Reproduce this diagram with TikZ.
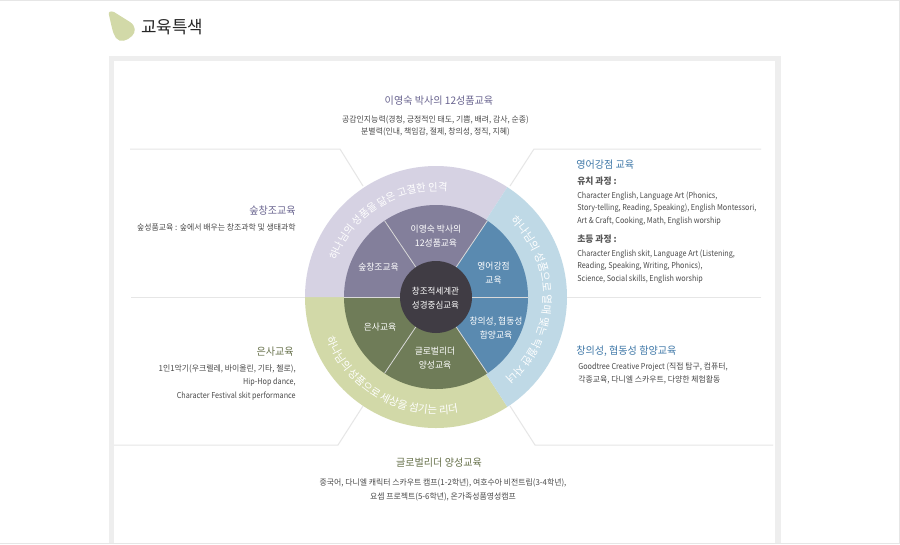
\documentclass[tikz,border=0pt]{standalone}
\usepackage{fontspec}
\setmainfont[FakeStretch=0.97]{Noto Sans CJK KR}
\newfontfamily\latn[FakeStretch=0.89]{Noto Sans CJK KR}
\usetikzlibrary{decorations.text}
\definecolor{frameG}{HTML}{EEEEEE}
\definecolor{ruleG}{HTML}{E6E6E6}
\definecolor{purA}{HTML}{D6D2E3}
\definecolor{bluA}{HTML}{BFD9E6}
\definecolor{grnA}{HTML}{D2D9A8}
\definecolor{purB}{HTML}{837F9B}
\definecolor{bluB}{HTML}{5A8AB0}
\definecolor{grnB}{HTML}{6F7C58}
\definecolor{coreC}{HTML}{403C44}
\definecolor{purT}{HTML}{6A6590}
\definecolor{bluT}{HTML}{3F78A8}
\definecolor{grnT}{HTML}{68724C}
\definecolor{bodyT}{HTML}{4A4A4A}
\tikzset{
  x=0.75pt,y=-0.75pt,
  leader/.style={draw=ruleG,line width=0.75pt},
  head/.style={font=\fontsize{7.8}{10}\selectfont,inner sep=0pt},
  body/.style={font=\fontsize{6.1}{9.6}\selectfont,text=bodyT,inner sep=0pt},
  subhead/.style={font=\fontsize{6.8}{10}\selectfont\bfseries,text=black!65,inner sep=0pt},
  seg/.style={font=\fontsize{6.8}{10.5}\selectfont,text=white,align=center,inner sep=0pt},
  sep/.style={draw=white!70!gray,line width=0.6pt},
  ringtext/.style 2 args={decoration={text along path,text align=center,text={|\fontsize{#1}{10}\selectfont\color{white}|#2}},decorate}
}
\begin{document}
\begin{tikzpicture}
\useasboundingbox (0,0) rectangle (900,544);
\fill[white] (0,0) rectangle (900,544);
\fill[ruleG] (0,0) rectangle (900,1);
\fill[ruleG] (899,0) rectangle (900,544);
\fill[ruleG] (0,543) rectangle (900,544);
% panel
\fill[frameG] (109,56) rectangle (781,543);
\fill[white] (114,61) rectangle (775,543);
% icon
\fill[grnA] (109,15) .. controls (108,11) and (111,11) .. (114,12) -- (130,22) .. controls (136,26) and (136,32) .. (132,36) .. controls (127,41) and (120,43) .. (116,38) .. controls (114,35) and (113,32) .. (112,28) -- cycle;
\node[inner sep=0pt,anchor=west,font=\fontsize{13}{14}\selectfont,text=black!85] (title) at (141,27.5) {교육특색};
% leaders
\coordinate (tlA) at (130,149); \coordinate (tlB) at (340,149); \coordinate (tlC) at (363,186);
\coordinate (trA) at (761,149); \coordinate (trB) at (534,149); \coordinate (trC) at (510,186);
\coordinate (mlA) at (131,297); \coordinate (mlB) at (305,297);
\coordinate (mrA) at (761,297); \coordinate (mrB) at (567,297);
\coordinate (blA) at (114,445); \coordinate (blB) at (338,445); \coordinate (blC) at (363,406);
\coordinate (brA) at (773,445); \coordinate (brB) at (535,445); \coordinate (brC) at (510,406);
\draw[leader] (tlA) -- (tlB) -- (tlC);
\draw[leader] (trA) -- (trB) -- (trC);
\draw[leader] (mlA) -- (mlB);
\draw[leader] (mrA) -- (mrB);
\draw[leader] (blA) -- (blB) -- (blC);
\draw[leader] (brA) -- (brB) -- (brC);
% wheel
\begin{scope}[shift={(436,297)},x=0.75pt,y=0.75pt]
\def\ra{131} \def\rb{92} \def\rc{36}
\fill[grnA] (0,0) -- (180:\ra) arc (180:303:\ra) -- cycle;
\fill[purA] (0,0) -- (180:\ra) arc (180:57:\ra) -- cycle;
\fill[bluA] (0,0) -- (57:\ra) arc (57:-57:\ra) -- cycle;
\fill[purB] (0,0) -- (180:\rb) arc (180:56:\rb) -- cycle;
\fill[bluB] (0,0) -- (56:\rb) arc (56:-56:\rb) -- cycle;
\fill[grnB] (0,0) -- (180:\rb) arc (180:304:\rb) -- cycle;
\foreach \ang in {56,124,180,236,304,0} \draw[sep] (0,0) -- (\ang:\rb);
\fill[coreC] (0,0) circle (\rc);
\path[ringtext={7.9}{하나님의 성품을 닮은 고결한 인격}] (172:106) arc (172:72:106);
\path[ringtext={8.2}{하나님의 성품으로 열매 맺는 탁월한 자녀}] (49:107) arc (49:-53:107);
\path[ringtext={8.1}{하나님의 성품으로 세상을 섬기는 리더}] (192:117) arc (192:290:117);
\end{scope}
\node[seg,font=\fontsize{6.6}{10.5}\selectfont] (core) at (435.5,298) {창조적세계관\\성경중심교육};
\node[seg] (s1) at (436,236.5) {이영숙 박사의\\12성품교육};
\node[seg] (s2) at (378.5,267.5) {숲창조교육};
\node[seg] (s3) at (493.5,273) {영어강점\\교육};
\node[seg] (s4) at (496,328) {창의성, 협동성\\함양교육};
\node[seg] (s5) at (380,327) {은사교육};
\node[seg] (s6) at (435,358.5) {글로벌리더\\양성교육};
% text blocks
\node[head,text=purT] (h1) at (439,100.5) {이영숙 박사의 12성품교육};
\node[body,align=center] (b1) at (435.5,126) {공감인지능력(경청, 긍정적인 태도, 기쁨, 배려, 감사, 순종)\\분별력(인내, 책임감, 절제, 창의성, 정직, 지혜)};
\node[head,text=purT,anchor=east] (h2) at (296,211) {숲창조교육};
\node[body,anchor=east] (b2) at (296,227) {숲성품교육 : 숲에서 배우는 창조과학 및 생태과학};
\node[head,text=bluT,anchor=west] (h3) at (576,164.5) {영어강점 교육};
\node[subhead,anchor=west] (h3a) at (577,181) {유치 과정 :};
\node[body,anchor=west,align=left,font=\fontsize{6.1}{9.4}\selectfont\latn] (b3a) at (577,208.5) {Character English, Language Art (Phonics,\\Story-telling, Reading, Speaking), English Montessori,\\Art \& Craft, Cooking, Math, English worship};
\node[subhead,anchor=west] (h3b) at (577,239) {초등 과정 :};
\node[body,anchor=west,align=left,font=\fontsize{6.1}{9.4}\selectfont\latn] (b3b) at (577,266.5) {Character English skit, Language Art (Listening,\\Reading, Speaking, Writing, Phonics),\\Science, Social skills, English worship};
\node[head,text=bluT,anchor=west] (h4) at (576,351) {창의성, 협동성 함양교육};
\node[body,anchor=west,align=left] (b4) at (578,373.5) {{\latn Goodtree Creative Project (}직접 탐구, 컴퓨터,\\각종교육, 다니엘 스카우트, 다양한 체험활동};
\node[head,text=grnT,anchor=east] (h5) at (294,351.5) {은사교육};
\node[body,anchor=east,align=right,font=\fontsize{6.1}{10.1}\selectfont] (b5) at (296,382.5) {1인1악기(우크렐레, 바이올린, 기타, 첼로),\\{\latn Hip-Hop dance,}\hspace{2pt}\\{\latn Character Festival skit performance}};
\node[head,text=grnT] (h6) at (439,463) {글로벌리더 양성교육};
\node[body,align=center,font=\fontsize{6.1}{10.4}\selectfont] (b6) at (443,490) {중국어, 다니엘 캐릭터 스카우트 캠프(1-2학년), 여호수아 비전트립(3-4학년),\\요셉 프로젝트(5-6학년), 온가족성품영성캠프};
\end{tikzpicture}
\end{document}
